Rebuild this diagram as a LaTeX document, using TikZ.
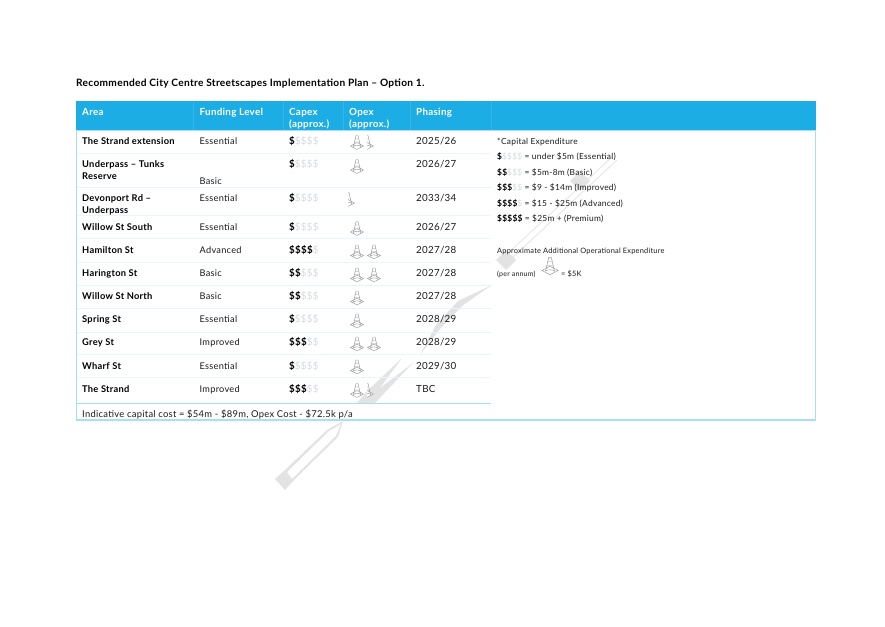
\documentclass[tikz,border=0pt]{standalone}
\usepackage{fontspec}
\setmainfont{Lato}[LetterSpace=3]
\usepackage{xcolor}
\definecolor{headblue}{HTML}{1CADE4}
\definecolor{rimblue}{HTML}{A6E0F6}
\definecolor{rowblue}{HTML}{E6F6FC}
\definecolor{ghost}{HTML}{D5DADF}
\definecolor{fadegray}{HTML}{E3E3E3}
\definecolor{inktext}{HTML}{1A1A1A}
\newcommand{\dollarset}[2]{{\bfseries\color{black}\foreach \n in {1,...,#1}{\$}}{\color{ghost}\ifnum#2>0 \foreach \n in {1,...,#2}{\$}\fi}}
\tikzset{
  cell/.style={anchor=base west,inner sep=0pt,font={\fontsize{9.2pt}{11}\selectfont},text=inktext},
  phasecell/.style={cell,font={\fontsize{9.8pt}{11}\selectfont}},
  areacell/.style={cell,text=black,font={\fontsize{9.3pt}{11}\selectfont\bfseries}},
  headcell/.style={cell,text=white,font={\fontsize{9.8pt}{11}\selectfont\bfseries}},
  notecell/.style={cell,font={\fontsize{8.4pt}{10}\selectfont}},
  smallcell/.style={cell,font={\fontsize{7pt}{8}\selectfont}},
  rowline/.style={rowblue,line width=.9pt},
  opexcone/.pic={
    \draw[gray!90,line width=.4pt,fill=white] (-6.5,0)--(0,-3.4)--(6.5,0)--(0,3.4)--cycle;
    \draw[gray!90,line width=.4pt] (-3.6,.6)--(-1,-10.5)--(1,-10.5)--(3.6,.6);
    \draw[gray!90,line width=.4pt] (-2.5,-4)--(2.5,-4) (-1.8,-7)--(1.8,-7) (-3.6,.6) arc(180:360:3.6 and 1.2);},
  halfcone/.pic={
    \begin{scope}
    \clip (0,-12) rectangle (8,5);
    \pic {opexcone};
    \end{scope}}
}
\begin{document}
\begin{tikzpicture}[x=1pt,y=-1pt]
  \useasboundingbox (0,0) rectangle (885,626);
  % faint shape behind the table
  \fill[fadegray,even odd rule] (275,479)--(285,470)--(327,430)--(343,421)--(338,437)--(294,480)--(285,490)--cycle
    (287,472)--(292,479)--(336,436)--(341,424)--(329,431)--cycle;
  \fill[fadegray] (357,403)--(375,403)--(413,363)--(380,388)--(402,358)--(366,392)--cycle;
  \fill[fadegray] (420,355)--(436,325)--(458,301)--(492,285)--(462,306)--(440,329)--cycle;
  \fill[fadegray] (506,250)--(516,260)--(506,270)--(496,260)--cycle (580,171)--(590,181)--(580,191)--(570,181)--cycle;
  \draw[fadegray,line width=.8pt] (510,260)--(617,160) (506,255)--(612,157);
  % title
  \node[anchor=base west,inner sep=0pt,font={\fontsize{10.15pt}{12}\selectfont\bfseries}] (title) at (76,86) {Recommended City Centre Streetscapes Implementation Plan – Option 1.};
  % frame and header
  \fill[headblue] (76,101) rectangle (816,130);
  \draw[rimblue,line width=1.2pt] (76.5,130)--(76.5,420)--(815.5,420)--(815.5,130);
  \draw[rimblue,line width=1pt] (76,130)--(816,130);
  \foreach \cx in {193,283,343,410,491}
    \draw[white,opacity=.12,line width=.6pt] (\cx,101)--(\cx,130);
  \foreach \ry in {153,187,215,238,262,285,308,332,354,377}
    \draw[rowline] (77,\ry)--(491,\ry);
  \draw[rimblue,line width=1.4pt] (77,403.5)--(491,403.5);
  \node[headcell] (headarea) at (82,115) {Area};
  \node[headcell] (headfund) at (199.5,115) {Funding Level};
  \node[headcell] (headcapex) at (289,115) {Capex};
  \node[headcell] (headcapexb) at (289,127) {(approx.)};
  \node[headcell] (headopex) at (349,115) {Opex};
  \node[headcell] (headopexb) at (349,127) {(approx.)};
  \node[headcell] (headphase) at (416,115) {Phasing};
  % rows
  \foreach \i/\ry/\area/\fund/\fy/\on/\off/\phase in {
    1/144/The Strand extension/Essential/144/1/4/2025\slash 26,
    2/167/Underpass – Tunks/Basic/184/1/4/2026\slash 27,
    3/201/Devonport Rd –/Essential/201/1/4/2033\slash 34,
    4/230/Willow St South/Essential/230/1/4/2026\slash 27,
    5/253/Hamilton St/Advanced/253/4/1/2027\slash 28,
    6/276/Harington St/Basic/276/2/3/2027\slash 28,
    7/299/Willow St North/Basic/299/2/3/2027\slash 28,
    8/322/Spring St/Essential/322/1/4/2028\slash 29,
    9/345/Grey St/Improved/345/3/2/2028\slash 29,
    10/369/Wharf St/Essential/369/1/4/2029\slash 30,
    11/392/The Strand/Improved/392/3/2/TBC}{
    \node[areacell] (area\i) at (82,\ry) {\area};
    \node[cell] (fund\i) at (199.5,\fy) {\fund};
    \node[phasecell] (capex\i) at (289,\ry) {\dollarset{\on}{\off}};
    \node[phasecell] (phase\i) at (416,\ry) {\phase};
  }
  \node[areacell] (areaextra) at (82,179) {Reserve};
  \node[areacell] (areaextrb) at (82,213) {Underpass};
  \node[cell,font={\fontsize{9.4pt}{11}\selectfont}] (total) at (82,417) {Indicative capital cost = \$54m - \$89m, Opex Cost - \$72.5k p\slash a};
  % cones
  \foreach \cx/\cy in {357/146,357/170,357/232,357/255.5,374/255.5,357/278.5,374/278.5,357/301.5,357/324.5,357/347.5,374/347.5,357/370.5,357/394}
    \pic at (\cx,\cy) {opexcone};
  \foreach \cx/\cy in {367/146,348/203,367/394}
    \pic at (\cx,\cy) {halfcone};
  % key
  \node[notecell] (keyhead) at (497,144) {*Capital Expenditure};
  \node[notecell] (keya) at (497,159) {\dollarset{1}{4} = under \$5m  (Essential)};
  \node[notecell] (keyb) at (497,175) {\dollarset{2}{3} = \$5m-8m  (Basic)};
  \node[notecell] (keyc) at (497,190) {\dollarset{3}{2} = \$9 - \$14m  (Improved)};
  \node[notecell] (keyd) at (497,206) {\dollarset{4}{1} = \$15 - \$25m  (Advanced)};
  \node[notecell] (keye) at (497,221) {\dollarset{5}{0} =  \$25m + (Premium)};
  \node[notecell,font={\fontsize{7.4pt}{9}\selectfont}] (keyopex) at (497,253) {Approximate Additional Operational Expenditure};
  \node[smallcell] (keyannum) at (497,276) {(per annum)};
  \pic[scale=1.25] at (550,270.5) {opexcone};
  \node[smallcell,font={\fontsize{7.4pt}{9}\selectfont}] (keyfive) at (561,276) {= \$5K};
\end{tikzpicture}
\end{document}
